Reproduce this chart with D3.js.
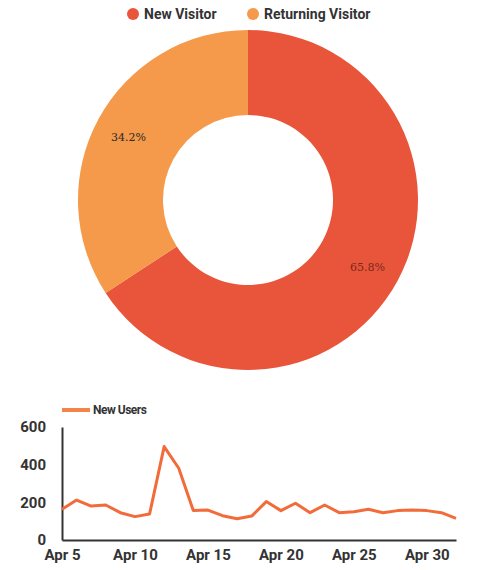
<!DOCTYPE html>
<html>
<head>
<meta charset="utf-8">
<script src="https://cdn.jsdelivr.net/npm/d3@7"></script>
<style>
  body { margin: 0; background: #fff; }
  svg { display: block; }
  .axis text { font-family: Roboto, sans-serif; font-weight: bold; font-size: 15px; fill: #333; }
  .axis path, .axis line { stroke: #333; }
</style>
</head>
<body>
<svg id="chart" width="477" height="570"></svg>
<script>
// visitor share
const visitorTypes = ['New Visitor', 'Returning Visitor']
const visitorShare = [65.8, 34.2]
const visitorColors = ['#e9553a', '#f5994a']

// daily new users, Apr 5 .. May 2
const dayStart = new Date(2020, 3, 5)
const newUsers = [163, 212, 180, 186, 145, 124, 138, 496, 381, 156, 159, 129, 113, 127,
  204, 156, 195, 145, 186, 145, 150, 163, 145, 156, 159, 156, 145, 115]
const yTicks = [0, 200, 400, 600]
const xTickDays = [5, 10, 15, 20, 25, 30]

const svg = d3.select('#chart')

// ---- legend (donut)
const legend = svg.append('g')
const legendX = [133, 253]
visitorTypes.forEach((name, i) => {
  legend.append('circle')
    .attr('cx', legendX[i]).attr('cy', 14).attr('r', 6)
    .attr('fill', visitorColors[i])
  legend.append('text')
    .attr('x', legendX[i] + 11).attr('y', 19)
    .attr('font-family', 'Roboto, sans-serif')
    .attr('font-weight', 'bold')
    .attr('font-size', 14)
    .attr('fill', '#333')
    .text(name)
})

// ---- donut
const cx = 248, cy = 200
const outerR = 170, innerR = 85
const pie = d3.pie().sort(null)
const arc = d3.arc().innerRadius(innerR).outerRadius(outerR)
const labelArc = d3.arc().innerRadius(outerR * 0.8).outerRadius(outerR * 0.8)

const donut = svg.append('g').attr('transform', `translate(${cx},${cy})`)
const arcs = pie(visitorShare)
donut.selectAll('path')
  .data(arcs)
  .enter()
  .append('path')
  .attr('d', arc)
  .attr('fill', (d, i) => visitorColors[i])

donut.selectAll('text')
  .data(arcs)
  .enter()
  .append('text')
  .attr('transform', (d) => `translate(${labelArc.centroid(d)})`)
  .attr('text-anchor', 'middle')
  .attr('dy', '0.55em')
  .attr('font-family', 'DejaVu Serif, serif')
  .attr('font-size', 11)
  .attr('fill', (d, i) => i === 0 ? '#7a2a1a' : '#2a2a2a')
  .text((d) => d.data.toFixed(1) + '%')

// ---- line chart
const x = d3.scaleTime()
  .domain([dayStart, d3.timeDay.offset(dayStart, newUsers.length - 1)])
  .range([62, 456])
const y = d3.scaleLinear().domain([0, 600]).range([540, 427])

const lineData = newUsers.map((v, i) => [d3.timeDay.offset(dayStart, i), v])

svg.append('g')
  .attr('class', 'axis')
  .attr('transform', 'translate(62,0)')
  .call(d3.axisLeft(y).tickValues(yTicks).tickSize(0).tickPadding(16))
  .call((g) => g.select('.domain').attr('stroke-width', 2))

svg.append('g')
  .attr('class', 'axis')
  .attr('transform', 'translate(0,540)')
  .call(d3.axisBottom(x)
    .tickValues(xTickDays.map((d) => new Date(2020, 3, d)))
    .tickFormat(d3.timeFormat('Apr %-d'))
    .tickSize(0).tickPadding(9))
  .call((g) => g.select('.domain').attr('stroke-width', 2))

const line = d3.line()
  .x((d) => x(d[0]))
  .y((d) => y(d[1]))

svg.append('path')
  .datum(lineData)
  .attr('d', line)
  .attr('fill', 'none')
  .attr('stroke', '#f26b3a')
  .attr('stroke-width', 3)
  .attr('stroke-linejoin', 'round')

// legend (line)
svg.append('line')
  .attr('x1', 62).attr('x2', 90).attr('y1', 410).attr('y2', 410)
  .attr('stroke', '#f5844a').attr('stroke-width', 4)
svg.append('text')
  .attr('x', 93).attr('y', 414)
  .attr('font-family', 'Roboto, sans-serif')
  .attr('font-weight', 'bold')
  .attr('font-size', 12)
  .attr('letter-spacing', -0.5)
  .attr('fill', '#333')
  .text('New Users')
</script>
</body>
</html>
